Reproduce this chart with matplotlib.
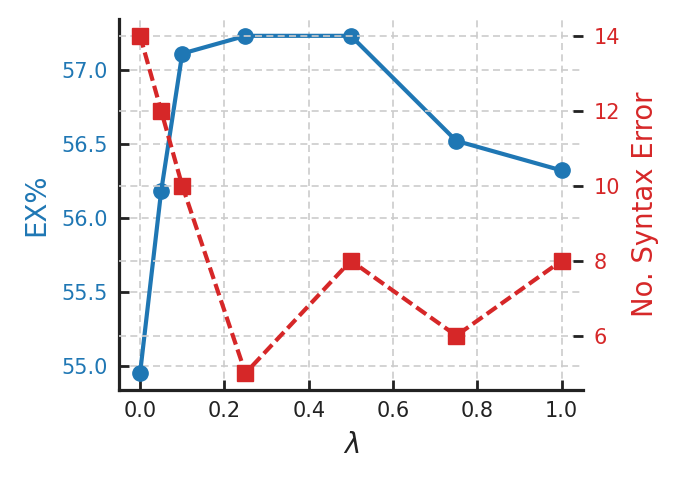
import matplotlib
matplotlib.use("Agg")
import matplotlib.pyplot as plt

lam = [0.0, 0.05, 0.1, 0.25, 0.5, 0.75, 1.0]
ex = [54.95, 56.18, 57.11, 57.23, 57.23, 56.52, 56.32]
syntax_err = [14, 12, 10, 5, 8, 6, 8]

blue = "#1f77b4"
red = "#d62728"
dark = "#222222"

plt.rcParams["font.family"] = ["DejaVu Sans"]

fig = plt.figure(figsize=(6.8, 4.8), dpi=100)
ax1 = fig.add_axes([0.175, 0.1875, 0.682, 0.773])
ax2 = ax1.twinx()

ax1.plot(lam, ex, color=blue, lw=3.0, marker="o", ms=11, zorder=3)
ax2.plot(lam, syntax_err, color=red, lw=3.0, ls="--", dashes=(2.9, 1.25),
         marker="s", ms=11, zorder=3)

grid_kw = dict(color="#cccccc", lw=1.2, ls=(0, (4.2, 2.6)))
ax1.grid(True, axis="both", **grid_kw)
ax2.grid(True, axis="y", **grid_kw)

ax1.set_yticks([55.0, 55.5, 56.0, 56.5, 57.0])
ax2.set_yticks([6, 8, 10, 12, 14])
ax1.set_xticks([0.0, 0.2, 0.4, 0.6, 0.8, 1.0])

for s in ["top", "right"]:
    ax1.spines[s].set_visible(False)
for s in ["top", "right", "left", "bottom"]:
    ax2.spines[s].set_visible(False)
for s in ["left", "bottom"]:
    ax1.spines[s].set_linewidth(2.3)
    ax1.spines[s].set_color(dark)

ax1.tick_params(axis="x", direction="in", length=7, width=2, color=dark,
                labelsize=15, labelcolor=dark, pad=8)
ax1.tick_params(axis="y", direction="in", length=7, width=2, color=dark,
                labelsize=15, labelcolor=blue, pad=8)
ax2.tick_params(axis="y", direction="in", length=7, width=2, color=dark,
                labelsize=15, labelcolor=red, pad=8)

ax1.set_xlabel(r"$\lambda$", fontsize=19.8, color=dark, labelpad=7)
ax1.set_ylabel("EX%", fontsize=19.8, color=blue, labelpad=8)
ax2.set_ylabel("No. Syntax Error", fontsize=19.8, color=red, labelpad=8)

fig.savefig("out.png", dpi=100)
